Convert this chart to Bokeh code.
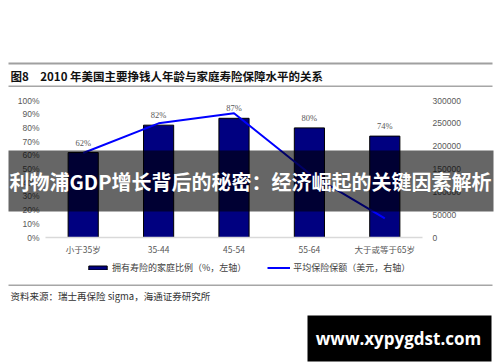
from bokeh.plotting import figure
from bokeh.models import (Range1d, LinearAxis, FactorRange, ColumnDataSource, LabelSet, Label,
                          BoxAnnotation, Legend, LegendItem, PrintfTickFormatter, FixedTicker, GridBox)
from bokeh.embed import file_html
from bokeh.resources import INLINE

categories = ["小于35岁", "35-44", "45-54", "55-64", "大于或等于65岁"]
share_pct = [62, 82, 87, 80, 74]
avg_cover_usd = [185000, 250000, 272000, 140000, 42000]
left_ticks = [0, 10, 20, 30, 40, 50, 60, 70, 80, 90, 100]
right_ticks = [0, 50000, 100000, 150000, 200000, 250000, 300000]
share_labels = [f"{v}%" for v in share_pct]

title_text = "图8\u30002010 年美国主要挣钱人年龄与家庭寿险保障水平的关系"
source_text = "资料来源：瑞士再保险 sigma，海通证券研究所"
legend_bar = "拥有寿险的家庭比例（%，左轴）"
legend_line = "平均保险保额（美元，右轴）"
banner_text = "利物浦GDP增长背后的秘密：经济崛起的关键因素解析"
watermark_text = "www.xypygdst.com"

CJK = "Noto Sans CJK SC"
LAT = "Liberation Sans"
GRAY = "#595959"
NAVY = "#000080"
BLUE = "#0000ff"

W, H = 500, 362

# ---------------- chart ----------------
p = figure(width=W, height=H, x_range=FactorRange(*categories, range_padding=0),
           y_range=Range1d(0, 100), output_backend="svg", toolbar_location=None,
           min_border_left=45, min_border_right=78, min_border_top=100, min_border_bottom=125,
           background_fill_color="white", border_fill_color="white", frame_align=False)
p.outline_line_color = None
p.xgrid.visible = False
p.ygrid.visible = False
p.extra_y_ranges = {"usd": Range1d(0, 300000)}

src = ColumnDataSource(dict(cat=categories, share=share_pct, lab=share_labels))
bars = p.vbar(x="cat", top="share", width=0.4, source=src, fill_color=NAVY,
              line_color="#000000", line_width=1)
line = p.line(categories, avg_cover_usd, y_range_name="usd", line_color=BLUE, line_width=2)

p.add_layout(LabelSet(x="cat", y="share", text="lab", source=src, y_offset=5,
                      text_align="center", text_baseline="bottom",
                      text_font=LAT, text_font_size="8.5px", text_color=GRAY))

ya = p.yaxis[0]
ya.ticker = FixedTicker(ticks=left_ticks)
ya.formatter = PrintfTickFormatter(format="%d%%")
ya.major_label_standoff = 6

ra = LinearAxis(y_range_name="usd", ticker=FixedTicker(ticks=right_ticks),
                formatter=PrintfTickFormatter(format="%d"))
ra.major_label_standoff = 10
p.add_layout(ra, "right")

xa = p.xaxis[0]
xa.axis_line_color = "#d9d9d9"
xa.axis_line_width = 1.5
xa.major_label_standoff = 5
xa.major_label_text_font = CJK

for ax in [ya, ra, xa]:
    if ax is not xa:
        ax.axis_line_color = None
        ax.major_label_text_font = LAT
    ax.major_tick_line_color = None
    ax.minor_tick_line_color = None
    ax.major_tick_out = 0
    ax.major_tick_in = 0
    ax.minor_tick_out = 0
    ax.minor_tick_in = 0
    ax.major_label_text_font_size = "8.5px"
    ax.major_label_text_color = GRAY

# ---------------- overlay (title, legend, source, banner, watermark) ----------------
o = figure(width=W, height=H, x_range=Range1d(0, W), y_range=Range1d(H, 0),
           x_axis_type=None, y_axis_type=None, output_backend="svg", toolbar_location=None,
           min_border=0, background_fill_alpha=0, border_fill_alpha=0, frame_align=False)
o.outline_line_color = None
o.grid.visible = False


def box(l, t, r, b, color, alpha=1.0):
    o.add_layout(BoxAnnotation(left=l, right=r, top=t, bottom=b, fill_color=color,
                               fill_alpha=alpha, line_color=None))


def text(x, y, s, size, color, font=CJK, bold=False, align="left"):
    o.add_layout(Label(x=x, y=y, text=s, text_font=font, text_font_size=size,
                       text_color=color, text_font_style="bold" if bold else "normal",
                       text_align=align, text_baseline="middle"))


box(8, 62, 492, 64, "#a0a0a0")
box(8, 85, 492, 86.5, "#a6a6a6")
box(8, 284, 492, 285.5, "#a6a6a6")
text(10, 75, title_text, "11.5px", "#111111", bold=True)
text(10, 295, source_text, "9.5px", "#333333")

# legend proxies (no visible marks; they only supply the legend swatches)
nan = float("nan")
leg_bar = o.vbar(x=[nan], top=[nan], width=1, fill_color=NAVY, line_color="#000000", line_width=1)
leg_line = o.line(x=[nan], y=[nan], line_color=BLUE, line_width=2)
legend = Legend(items=[LegendItem(label=legend_bar, renderers=[leg_bar]),
                       LegendItem(label=legend_line, renderers=[leg_line])],
                orientation="horizontal", location=(86, H - 274), padding=0, margin=0,
                spacing=21, glyph_width=23, glyph_height=5, label_height=12,
                label_standoff=3, label_text_font=CJK, label_text_font_size="9px",
                label_text_color="#404040", border_line_color=None, background_fill_alpha=0)
o.add_layout(legend)

box(8, 150, 493, 211, "#000000", 0.6)
text(250, 181, banner_text, "20px", "#ffffff", bold=True, align="center")

box(307, 315, 491, 361, "#000000")
text(398, 338, watermark_text, "17px", "#ffffff", font="Open Sans", bold=True, align="center")

layout = GridBox(children=[(p, 0, 0), (o, 0, 0)])
open("out.html", "w").write(file_html(layout, INLINE))
